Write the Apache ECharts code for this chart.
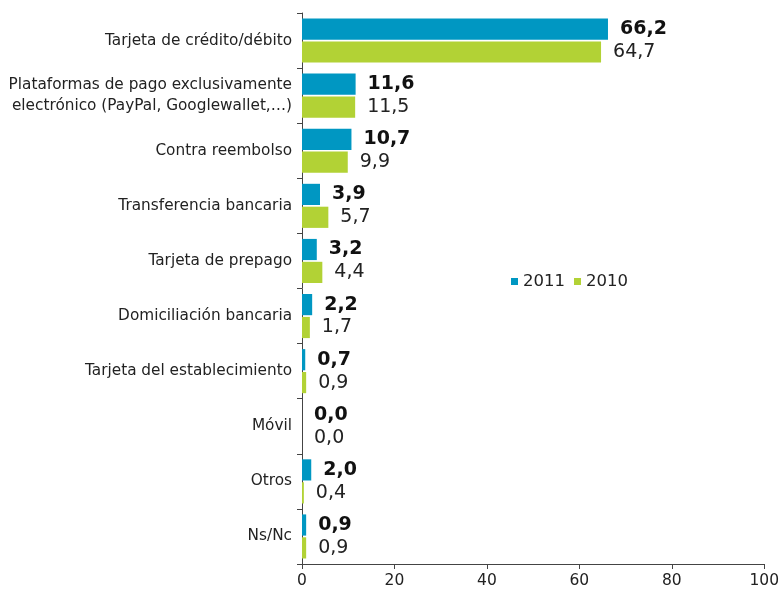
<!DOCTYPE html>
<html>
<head>
<meta charset="utf-8">
<script src="https://cdn.jsdelivr.net/npm/echarts@6/dist/echarts.min.js"></script>
<style>
  html, body { margin: 0; padding: 0; background: #fff; }
  #chart { width: 782px; height: 592px; }
</style>
</head>
<body>
<div id="chart"></div>
<script>
var categories = [
  "Tarjeta de crédito/débito",
  "Plataformas de pago exclusivamente\nelectrónico (PayPal, Googlewallet,…)",
  "Contra reembolso",
  "Transferencia bancaria",
  "Tarjeta de prepago",
  "Domiciliación bancaria",
  "Tarjeta del establecimiento",
  "Móvil",
  "Otros",
  "Ns/Nc"
];
var values2011 = [66.2, 11.6, 10.7, 3.9, 3.2, 2.2, 0.7, 0.0, 2.0, 0.9];
var values2010 = [64.7, 11.5, 9.9, 5.7, 4.4, 1.7, 0.9, 0.0, 0.4, 0.9];
var seriesNames = ["2011", "2010"];

var font = "Verdana, 'DejaVu Sans', sans-serif";
var fmt = function (p) { return p.value.toFixed(1).replace(".", ","); };

var chart = echarts.init(document.getElementById("chart"));
chart.setOption({
  animation: false,
  textStyle: { fontFamily: font },
  grid: { left: 302, right: 15, top: 13, bottom: 28, containLabel: false },
  legend: {
    data: seriesNames,
    left: 506,
    top: 268,
    icon: "rect",
    itemWidth: 7,
    itemHeight: 7,
    itemGap: 9,
    textStyle: { fontFamily: font, fontSize: 16.5, color: "#222" }
  },
  xAxis: {
    type: "value",
    min: 0,
    max: 100,
    interval: 20,
    splitLine: { show: false },
    axisLine: { show: true, lineStyle: { color: "#444" } },
    axisTick: { show: true, length: 5, lineStyle: { color: "#444" } },
    axisLabel: { fontFamily: font, fontSize: 15.5, color: "#222", margin: 9 }
  },
  yAxis: {
    type: "category",
    inverse: true,
    data: categories,
    axisLine: { lineStyle: { color: "#444" } },
    axisTick: { show: true, length: 5, lineStyle: { color: "#444" } },
    axisLabel: { fontFamily: font, fontSize: 15.3, color: "#222", margin: 10, lineHeight: 21, align: "right" }
  },
  series: [
    {
      name: seriesNames[0],
      type: "bar",
      data: values2011,
      barGap: "8%",
      barCategoryGap: "20%",
      itemStyle: { color: "#0097c2" },
      label: {
        show: true, position: "right", distance: 12,
        formatter: fmt, fontFamily: font, fontSize: 19, fontWeight: "bold", color: "#111"
      }
    },
    {
      name: seriesNames[1],
      type: "bar",
      data: values2010,
      itemStyle: { color: "#b2d235" },
      label: {
        show: true, position: "right", distance: 12,
        formatter: fmt, fontFamily: font, fontSize: 19, color: "#222"
      }
    }
  ]
});
</script>
</body>
</html>
